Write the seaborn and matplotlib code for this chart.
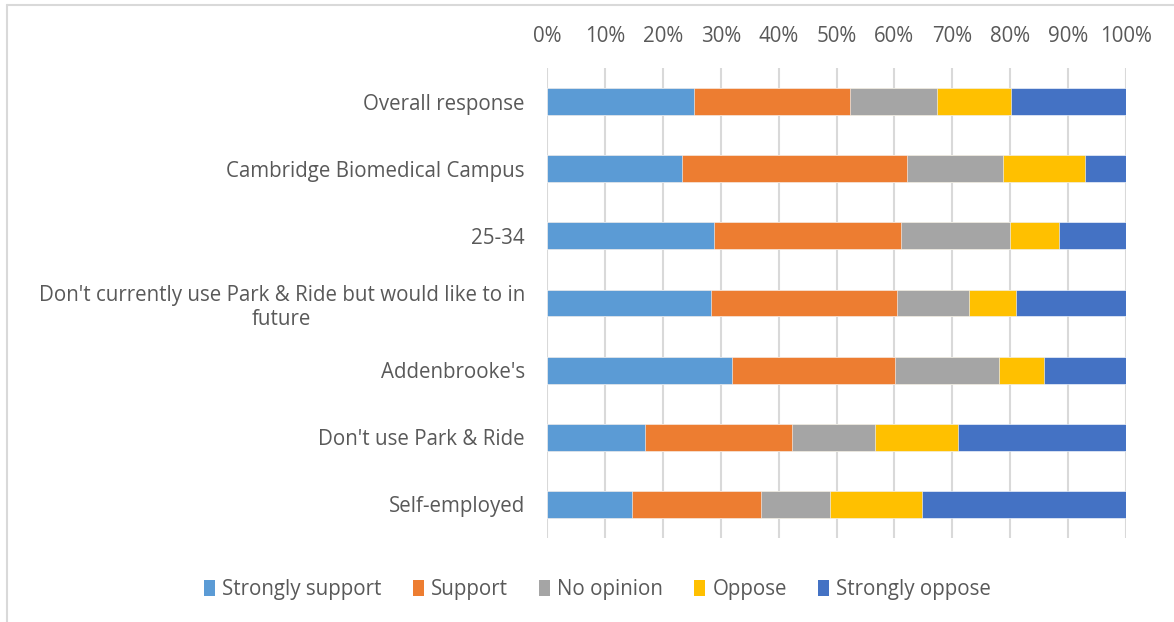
import matplotlib
matplotlib.use("Agg")
import matplotlib.pyplot as plt
from matplotlib.lines import Line2D
from matplotlib.patches import Patch
import numpy as np
import pandas as pd
import seaborn as sns

# Response groups (top to bottom)
groups = [
    "Overall response",
    "Cambridge Biomedical Campus",
    "25-34",
    "Don't currently use Park & Ride but would like to in\nfuture",
    "Addenbrooke's",
    "Don't use Park & Ride",
    "Self-employed",
]

# Share of responses in each group (%)
strongly_support = [25.4, 23.3, 28.9, 28.3, 31.9, 16.9, 14.6]
support = [26.9, 38.9, 32.2, 32.2, 28.2, 25.4, 22.4]
no_opinion = [15.0, 16.6, 18.8, 12.4, 18.0, 14.3, 11.9]
oppose = [12.8, 14.1, 8.6, 8.1, 7.8, 14.3, 15.9]
strongly_oppose = [19.9, 7.1, 11.5, 19.0, 14.1, 29.1, 35.2]

series_names = ["Strongly support", "Support", "No opinion", "Oppose", "Strongly oppose"]
series_colors = ["#5B9BD5", "#ED7D31", "#A5A5A5", "#FFC000", "#4472C4"]

df = pd.DataFrame({
    "group": groups,
    "Strongly support": strongly_support,
    "Support": support,
    "No opinion": no_opinion,
    "Oppose": oppose,
    "Strongly oppose": strongly_oppose,
})
totals = df[series_names].sum(axis=1)
df[series_names] = df[series_names].div(totals, axis=0) * 100
cum = df[series_names].cumsum(axis=1)

sns.set_theme(style="white")
plt.rcParams["font.family"] = ["Open Sans", "DejaVu Sans"]
text_color = "#595959"
fs = 14.8

fig = plt.figure(figsize=(11.74, 6.22), dpi=100)
ax = fig.add_axes([547 / 1174, 1 - 538 / 622, 579 / 1174, 470 / 622])

# Stacked bars: draw cumulative totals from the outermost segment inward
for name, color in reversed(list(zip(series_names, series_colors))):
    sns.barplot(x=cum[name], y=df["group"], orient="h", color=color,
                width=0.4, edgecolor="white", linewidth=0.4, ax=ax,
                saturation=1, zorder=3)

ax.set_xlim(0, 100)
ax.set_ylim(len(groups) - 0.5, -0.5)
ax.set_xticks(np.arange(0, 101, 10))
ax.set_xticklabels([f"{v}%" for v in range(0, 101, 10)])
ax.xaxis.tick_top()
ax.xaxis.grid(True, color="#D9D9D9", linewidth=1.5, zorder=0)
ax.yaxis.grid(False)
ax.set_axisbelow(True)
for s in ax.spines.values():
    s.set_visible(False)
ax.set_xlabel("")
ax.set_ylabel("")
ax.tick_params(axis="x", length=0, pad=15, labelsize=fs, labelcolor=text_color)
ax.tick_params(axis="y", length=0, pad=16, labelsize=fs, labelcolor=text_color)
for lbl in ax.get_yticklabels():
    lbl.set_multialignment("center")

handles = [Patch(facecolor=c, edgecolor="none") for c in series_colors]
fig.legend(handles, series_names, loc="center", bbox_to_anchor=(0.509, 0.052),
           ncol=5, frameon=False, fontsize=fs, labelcolor=text_color,
           handlelength=0.55, handleheight=0.75, handletextpad=0.35, columnspacing=1.5)

# Chart area border
W, H = 1174, 622
fig.add_artist(Line2D([7 / W, 1.0], [1 - 5 / H, 1 - 5 / H], color="#D9D9D9", lw=1.5,
                      transform=fig.transFigure))
fig.add_artist(Line2D([7 / W, 7 / W], [0.0, 1 - 5 / H], color="#D9D9D9", lw=1.5,
                      transform=fig.transFigure))

fig.savefig("out.png", dpi=100, facecolor="white")
